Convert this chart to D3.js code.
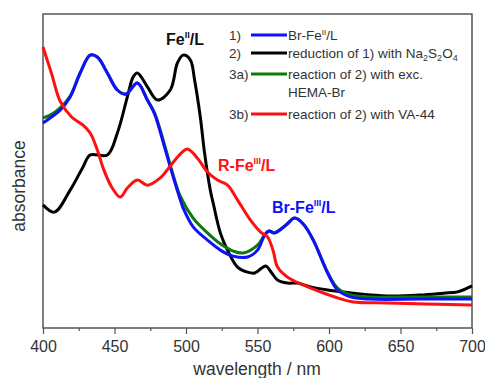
<!DOCTYPE html>
<html>
<head>
<meta charset="utf-8">
<script src="https://cdn.jsdelivr.net/npm/d3@7"></script>
<style>
body{margin:0;background:#fff;}
text{font-family:Arial,"Liberation Sans",Helvetica,sans-serif;}
</style>
</head>
<body>
<script>
// spectra (absorbance in arbitrary units)
const blueWl=[400,405,412,419,426,433,438,445,452,458,466,473,478,485,490,496,498,505,515,524,533,543,550,555,558,562,570,576,582,589,599,606,615,629,664,700]
const blueAbs=[0.653,0.669,0.694,0.736,0.812,0.869,0.863,0.812,0.758,0.745,0.780,0.726,0.682,0.576,0.497,0.408,0.382,0.322,0.280,0.248,0.229,0.226,0.248,0.296,0.309,0.303,0.328,0.350,0.331,0.280,0.175,0.121,0.099,0.092,0.092,0.092]

const greenWl=[400,405,412,419,426,433,438,445,452,458,466,473,478,485,490,496,505,515,524,533,540,550,555,558,562,570,576,582,589,599,606,615,629,664,700]
const greenAbs=[0.669,0.678,0.701,0.739,0.812,0.869,0.863,0.812,0.758,0.745,0.780,0.726,0.685,0.583,0.503,0.420,0.350,0.303,0.268,0.245,0.239,0.264,0.296,0.309,0.303,0.328,0.350,0.331,0.280,0.178,0.127,0.105,0.099,0.099,0.099]

const blackWl=[400,408,419,428,433,445,452,459,463,466,473,480,489,494,498,503,506,510,513,517,519,524,529,536,543,548,553,556,560,564,571,578,587,599,617,641,664,680,690,700]
const blackAbs=[0.392,0.369,0.439,0.513,0.551,0.551,0.621,0.736,0.799,0.812,0.768,0.726,0.758,0.844,0.869,0.854,0.790,0.672,0.557,0.439,0.398,0.303,0.248,0.194,0.178,0.175,0.191,0.197,0.175,0.153,0.143,0.143,0.131,0.121,0.111,0.102,0.105,0.111,0.115,0.134]

const redWl=[400,406,412,420,428,433,438,442,448,454,459,466,473,482,489,496,501,508,515,522,529,536,545,552,557,561,564,571,582,594,606,617,641,700]
const redAbs=[0.895,0.810,0.722,0.672,0.646,0.621,0.567,0.510,0.449,0.417,0.446,0.471,0.455,0.478,0.516,0.554,0.570,0.541,0.497,0.471,0.455,0.408,0.344,0.306,0.290,0.245,0.194,0.162,0.137,0.115,0.096,0.083,0.080,0.073]

const majorTicks=[400,450,500,550,600,650,700]
const minorTicks=[425,475,525,575,625,675]

const legendNums=["1)","2)","3a)","3b)"]
const legendColors=["#1010ff","#000000","#0a7a0a","#ff1010"]

const W=485,H=378
const m={left:43,top:14,right:13,bottom:50}
const w=W-m.left-m.right, h=H-m.top-m.bottom

const svg=d3.select("body").append("svg").attr("width",W).attr("height",H)
const g=svg.append("g").attr("transform","translate("+m.left+","+m.top+")")

const x=d3.scaleLinear().domain([400,700]).range([0,w])
const y=d3.scaleLinear().domain([0,1]).range([h,0])

// frame
g.append("rect").attr("width",w).attr("height",h)
    .attr("fill","none").attr("stroke","#555").attr("stroke-width",1.5)

const ax=g.append("g").attr("transform","translate(0,"+h+")")
    .call(d3.axisBottom(x).tickValues(majorTicks).tickSize(6).tickPadding(7).tickFormat(d3.format("d")))
ax.select(".domain").remove()
ax.selectAll("line").attr("stroke","#555").attr("stroke-width",1.2)
ax.selectAll("text").attr("font-size",16).attr("fill","#333").style("font-family","Arial,'Liberation Sans',sans-serif")

const axm=g.append("g").attr("transform","translate(0,"+h+")")
    .call(d3.axisBottom(x).tickValues(minorTicks).tickSize(3).tickFormat(""))
axm.select(".domain").remove()
axm.selectAll("line").attr("stroke","#555").attr("stroke-width",1.2)

svg.append("text").attr("x",257).attr("y",375).attr("text-anchor","middle")
    .attr("font-size",17.5).attr("fill","#333").text("wavelength / nm")
svg.append("text").attr("transform","translate(25,186) rotate(-90)")
    .attr("text-anchor","middle").attr("font-size",17.5).attr("fill","#333").text("absorbance")

const line=d3.line().x(d=>x(d[0])).y(d=>y(d[1])).curve(d3.curveCatmullRom.alpha(0.5))

const series=[
    {wl:blackWl,ab:blackAbs,c:legendColors[1]},
    {wl:greenWl,ab:greenAbs,c:legendColors[2]},
    {wl:blueWl,ab:blueAbs,c:legendColors[0]},
    {wl:redWl,ab:redAbs,c:legendColors[3]}
]
g.selectAll("path.spec").data(series).enter().append("path")
    .attr("class","spec")
    .attr("fill","none")
    .attr("stroke",d=>d.c)
    .attr("stroke-width",3)
    .attr("stroke-linejoin","round")
    .attr("d",d=>line(d3.zip(d.wl,d.ab)))

// legend
const lg=svg.append("g")
const rowY=[35,53,74,114]
legendNums.forEach((n,i)=>{
    lg.append("text").attr("x",229).attr("y",rowY[i]+5).attr("font-size",13.5).attr("fill","#333").text(n)
    lg.append("line").attr("x1",251).attr("x2",287).attr("y1",rowY[i]).attr("y2",rowY[i])
        .attr("stroke",legendColors[i]).attr("stroke-width",3)
})
function lt(yy){return lg.append("text").attr("x",288).attr("y",yy).attr("font-size",13.5).attr("fill","#333")}
let t=lt(40); t.append("tspan").text("Br-Fe"); t.append("tspan").attr("dy",-5).attr("font-size",8).text("II"); t.append("tspan").attr("dy",5).text("/L")
t=lt(58); t.append("tspan").text("reduction of 1) with Na"); t.append("tspan").attr("dy",3).attr("font-size",9).text("2")
t.append("tspan").attr("dy",-3).text("S"); t.append("tspan").attr("dy",3).attr("font-size",9).text("2")
t.append("tspan").attr("dy",-3).text("O"); t.append("tspan").attr("dy",3).attr("font-size",9).text("4")
lt(79).text("reaction of 2) with exc.")
lt(97).text("HEMA-Br")
lt(119).text("reaction of 2) with VA-44")

// peak labels
function lab(xx,yy,col,pre,sup){
    const s=svg.append("text").attr("x",xx).attr("y",yy).attr("font-size",16).attr("font-weight","bold").attr("fill",col)
    s.append("tspan").text(pre); s.append("tspan").attr("dy",-7).attr("font-size",9).text(sup); s.append("tspan").attr("dy",7).text("/L")
}
lab(166,45,"#111","Fe","II")
lab(218,171,"#ff1010","R-Fe","III")
lab(272,213,"#1010ff","Br-Fe","III")
</script>
</body>
</html>
